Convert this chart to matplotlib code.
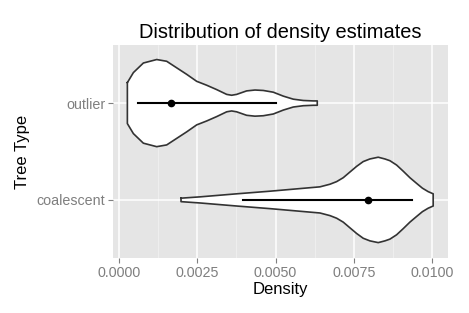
import numpy as np
import matplotlib
matplotlib.use('Agg')
import matplotlib.pyplot as plt
from matplotlib.ticker import MultipleLocator

# --- Data ---
categories = ['coalescent', 'outlier']

# violin outlines: density positions and relative half-widths (1 = widest)
outlier_pos = [0.000266, 0.000458, 0.000777, 0.001203, 0.001522, 0.001841, 0.002161,
               0.00248, 0.0028, 0.003118, 0.003438, 0.003597, 0.003757, 0.004076,
               0.004342, 0.004608, 0.004928, 0.005247, 0.005566, 0.005885, 0.006205,
               0.006332]
outlier_width = [0.47, 0.70, 0.92, 1.0, 0.96, 0.81, 0.66, 0.50, 0.41, 0.31, 0.20,
                 0.18, 0.20, 0.28, 0.30, 0.29, 0.25, 0.16, 0.09, 0.06, 0.05, 0.05]

coal_pos = [0.00198, 0.002586, 0.003758, 0.004821, 0.005779, 0.006098, 0.006418,
            0.006737, 0.006951, 0.007162, 0.007375, 0.007589, 0.0078, 0.008014,
            0.008279, 0.008493, 0.008653, 0.008867, 0.009077, 0.009291, 0.009505,
            0.00969, 0.009875, 0.010035]
coal_width = [0.04, 0.07, 0.14, 0.20, 0.26, 0.28, 0.30, 0.36, 0.42, 0.51, 0.64,
              0.77, 0.88, 0.94, 0.98, 0.94, 0.90, 0.80, 0.66, 0.51, 0.38, 0.27,
              0.19, 0.14]

# point + range summary (centre, low, high)
centers = [0.00794, 0.00165]
lows = [0.00397, 0.00060]
highs = [0.00937, 0.00500]

# --- Style ---
BG = '#E5E5E5'
OUTLINE = '#333333'
TICK_GREY = '#7F7F7F'
MAX_HALF = 0.45

plt.rcParams['font.family'] = ['Liberation Sans', 'DejaVu Sans']

fig = plt.figure(figsize=(4.69, 3.13), dpi=100)
ax = fig.add_axes([0.241, 0.1757, 0.714, 0.6805])
ax.set_facecolor(BG)

profiles = [(coal_pos, coal_width), (outlier_pos, outlier_width)]
for i, (pos, w) in enumerate(profiles):
    y0 = i + 1
    pos = np.array(pos)
    hw = np.array(w) * MAX_HALF
    ax.fill_between(pos, y0 - hw, y0 + hw, facecolor='white', edgecolor='none', zorder=3)
    # closed outline
    xs = np.concatenate([pos, pos[::-1], pos[:1]])
    ys = np.concatenate([y0 + hw, (y0 - hw)[::-1], [y0 + hw[0]]])
    ax.plot(xs, ys, color=OUTLINE, lw=1.2, zorder=4)

for i in range(len(categories)):
    y0 = i + 1
    ax.plot([lows[i], highs[i]], [y0, y0], color='black', lw=1.5, zorder=5)
    ax.plot(centers[i], y0, 'o', color='black', ms=4.5, zorder=6)

ax.set_xlim(-0.000192, 0.010505)
ax.set_ylim(0.4, 2.6)

ax.xaxis.set_minor_locator(MultipleLocator(0.00125))
ax.set_xticks([0.0, 0.0025, 0.005, 0.0075, 0.01])
ax.set_xticklabels(['0.0000', '0.0025', '0.0050', '0.0075', '0.0100'])
ax.set_yticks([1, 2])
ax.set_yticklabels(categories)

ax.grid(which='major', color='white', lw=1.1, zorder=1)
ax.grid(which='minor', axis='x', color='#F2F2F2', lw=0.5, zorder=1)
ax.set_axisbelow(True)
for s in ax.spines.values():
    s.set_visible(False)

ax.tick_params(axis='both', which='major', colors=TICK_GREY, labelsize=10.3,
               length=3.5, width=0.8, pad=2)
ax.tick_params(axis='x', which='minor', length=0)

ax.set_xlabel('Density', fontsize=12, labelpad=2)
ax.set_ylabel('Tree Type', fontsize=12, labelpad=5)
ax.set_title('Distribution of density estimates', fontsize=14.4, pad=5)

fig.savefig('out.png', dpi=100)
